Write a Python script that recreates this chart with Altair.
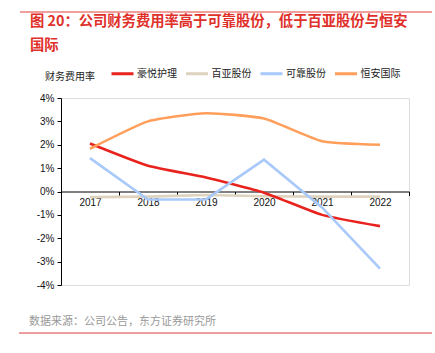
import altair as alt
import pandas as pd

years = ["2017", "2018", "2019", "2020", "2021", "2022"]
series_names = ["豪悦护理", "百亚股份", "可靠股份", "恒安国际"]
haoyue = [2.05, 1.10, 0.60, -0.05, -1.00, -1.48]
baiya = [-0.24, -0.22, -0.15, -0.20, -0.22, -0.22]
kekao = [1.43, -0.34, -0.34, 1.36, -0.68, -3.30]
hengan = [1.83, 3.00, 3.35, 3.12, 2.15, 2.00]
colors = ["#E8231E", "#DDD3BE", "#A8C9FA", "#FF9F5B"]
y_ticks = [-4, -3, -2, -1, 0, 1, 2, 3, 4]

title_lines = ["图 20：公司财务费用率高于可靠股份，低于百亚股份与恒安", "国际"]
y_title = "财务费用率"
source_text = "数据来源：公司公告，东方证券研究所"

values = {"豪悦护理": haoyue, "百亚股份": baiya, "可靠股份": kekao, "恒安国际": hengan}
rows = []
for name in series_names:
    for yr, v in zip(years, values[name]):
        rows.append({"year": yr, "series": name, "value": v})
df = pd.DataFrame(rows)

W, H = 348, 187
CJK = "Noto Sans CJK SC"
LAT = "Liberation Sans"

x_enc = alt.X(
    "year:O",
    title=None,
    bandPosition=0.5,
    scale=alt.Scale(type="band", paddingInner=0, paddingOuter=0, domain=years),
    axis=alt.Axis(
        tickBand="extent", offset=-H / 2, domainColor="#000000", tickColor="#000000",
        tickSize=4, labelAngle=0, labelFont=LAT, labelFontSize=10, labelColor="#111111",
        labelPadding=2, grid=False,
    ),
)
y_enc = alt.Y(
    "value:Q",
    title=None,
    scale=alt.Scale(domain=[-4, 4], nice=False),
    axis=alt.Axis(
        values=y_ticks, labelExpr="(datum.value < 0 ? '-' : '') + abs(datum.value) + '%'",
        domainColor="#000000", tickColor="#000000", tickSize=4, labelFont=LAT,
        labelFontSize=10, labelColor="#111111", labelPadding=3, grid=False,
    ),
)
color_enc = alt.Color(
    "series:N",
    scale=alt.Scale(domain=series_names, range=colors),
    legend=alt.Legend(
        title=None, orient="none", direction="horizontal", legendX=49, legendY=-37,
        symbolType="stroke", symbolStrokeWidth=3, symbolSize=484, labelFont=CJK,
        labelFontSize=10, labelColor="#222222", labelOffset=2, columnPadding=2.5,
        padding=0,
    ),
)

order = [("百亚股份", "linear"), ("豪悦护理", "cardinal"), ("可靠股份", "linear"), ("恒安国际", "cardinal")]
line_layers = []
for name, interp in order:
    mk = {"strokeWidth": 2.6, "interpolate": interp}
    if interp == "cardinal":
        mk["tension"] = 0.5
    line_layers.append(
        alt.Chart(df[df["series"] == name]).mark_line(**mk).encode(
            x=x_enc, y=y_enc, color=color_enc
        )
    )

one = pd.DataFrame({"k": [0]})
top_rule = alt.Chart(one).mark_rule(color="#E0403A", strokeWidth=1).encode(
    x=alt.value(-41), x2=alt.value(371), y=alt.value(-86)
)
bottom_rule = alt.Chart(one).mark_rule(color="#D9403A", strokeWidth=1.2).encode(
    x=alt.value(-42), x2=alt.value(371), y=alt.value(235)
)
title1 = alt.Chart(pd.DataFrame({"t": [title_lines[0]]})).mark_text(
    align="left", baseline="middle", font=CJK, fontSize=14.3, fontWeight="bold", color="#E0302A"
).encode(x=alt.value(-31), y=alt.value(-76), text="t:N")
title2 = alt.Chart(pd.DataFrame({"t": [title_lines[1]]})).mark_text(
    align="left", baseline="middle", font=CJK, fontSize=14.3, fontWeight="bold", color="#E0302A"
).encode(x=alt.value(-31), y=alt.value(-52), text="t:N")
ytitle = alt.Chart(pd.DataFrame({"t": [y_title]})).mark_text(
    align="left", baseline="middle", font=CJK, fontSize=10, color="#222222"
).encode(x=alt.value(-16), y=alt.value(-21), text="t:N")
source = alt.Chart(pd.DataFrame({"t": [source_text]})).mark_text(
    align="left", baseline="middle", font=CJK, fontSize=11, color="#999999"
).encode(x=alt.value(-32), y=alt.value(224), text="t:N")

chart = alt.layer(
    *line_layers, top_rule, bottom_rule, title1, title2, ytitle, source
).properties(
    width=W, height=H,
    autosize=alt.AutoSizeParams(type="none"),
    padding={"left": 61, "top": 98, "right": 26, "bottom": 68},
).configure_view(stroke=None).configure(background="#FFFFFF")

chart.save("out.html", embed_options={"renderer": "svg", "actions": False})
